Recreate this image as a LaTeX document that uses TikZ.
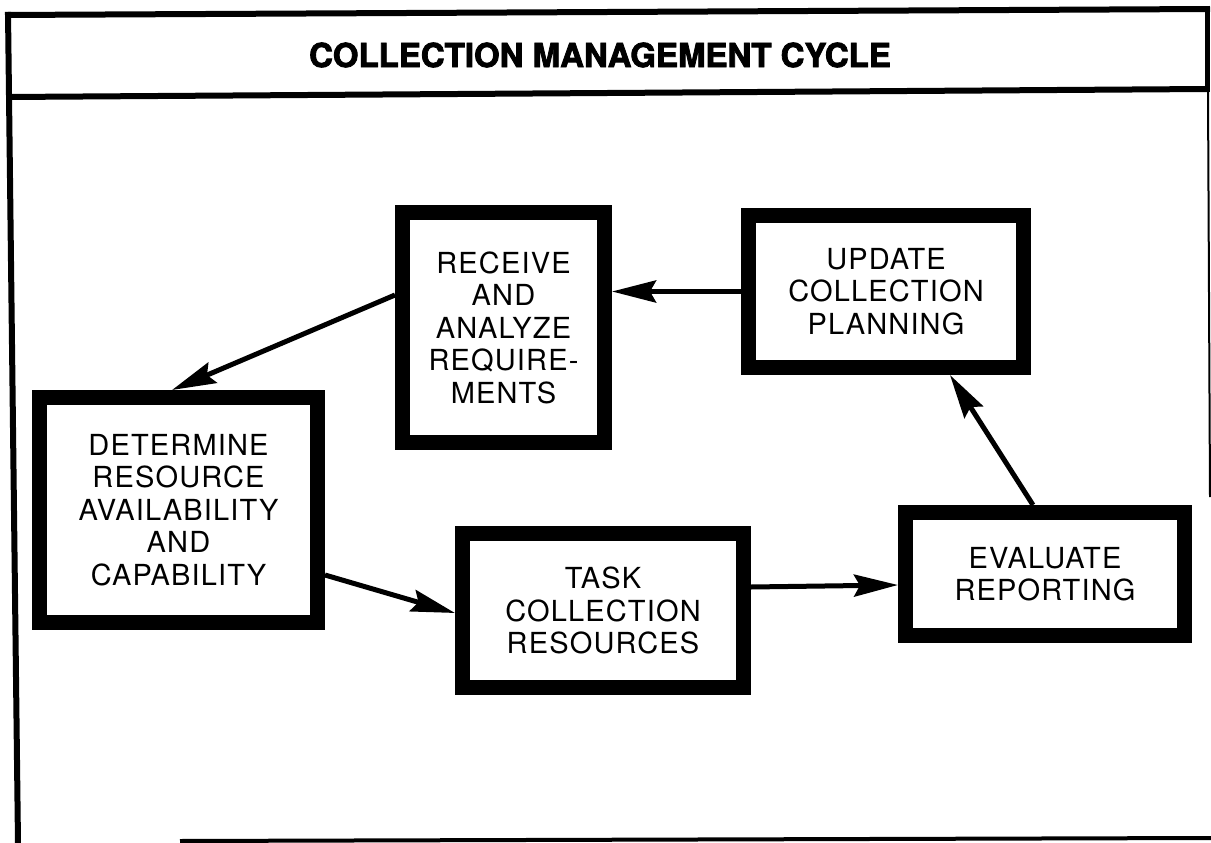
\documentclass[tikz,border=0pt]{standalone}
\usepackage{fontspec}
\setmainfont{TeX Gyre Heros}
\newfontfamily\boxfam{TeX Gyre Heros}[LetterSpace=4]
\newfontfamily\titlefam{TeX Gyre Heros}[FakeBold=2.5]
\usetikzlibrary{arrows.meta}
\begin{document}
\begin{tikzpicture}[x=1pt,y=-1pt,
  stepbox/.style={draw, line width=15pt, align=center, inner sep=0pt,
    font=\boxfam\fontsize{29}{32.5}\selectfont},
  flow/.style={line width=5pt, -{Stealth[length=44pt,width=22pt,inset=6pt]}},
  frameline/.style={line width=6pt},
]
\useasboundingbox (0,0) rectangle (1211,843);
% frame
\draw[frameline] (5,15) -- (1210,9);
\draw[frameline] (8,97) -- (1207,89);
\draw[frameline] (8,12) -- (18,843);
\draw[line width=5pt] (1207,6) -- (1207,92);
\draw[line width=2pt] (1208,92) -- (1210,497);
\draw[line width=4pt] (180,841) -- (1211,838);
\node[font=\titlefam\bfseries\fontsize{33}{36}\selectfont] (title) at (600,55) {COLLECTION MANAGEMENT CYCLE};
% boxes
\node[stepbox, minimum width=202pt, minimum height=230pt] (receive) at (503.5,327.5)
  {RECEIVE\\AND\\ANALYZE\\REQUIRE-\\MENTS};
\node[stepbox, minimum width=275pt, minimum height=152pt] (update) at (886,291.5)
  {UPDATE\\COLLECTION\\PLANNING};
\node[stepbox, minimum width=278pt, minimum height=225pt] (determine) at (178.5,510)
  {DETERMINE\\RESOURCE\\AVAILABILITY\\AND\\CAPABILITY};
\node[stepbox, minimum width=281pt, minimum height=154pt] (task) at (603,610.5)
  {TASK\\COLLECTION\\RESOURCES};
\node[stepbox, minimum width=279pt, minimum height=123pt] (evaluate) at (1045,574)
  {EVALUATE\\REPORTING};
% connectors
\draw[flow] (update.west) -- (receive.east |- update.west);
\draw[flow] ([yshift=32.5pt]receive.west) -- ([xshift=-6.5pt]determine.north);
\draw[flow] ([yshift=-65pt]determine.east) -- ([yshift=-2.5pt]task.west);
\draw[flow] ([yshift=23.5pt]task.east) -- ([yshift=-11pt]evaluate.west);
\draw[flow] ([xshift=-12pt]evaluate.north) -- ([xshift=64pt]update.south);
\end{tikzpicture}
\end{document}
